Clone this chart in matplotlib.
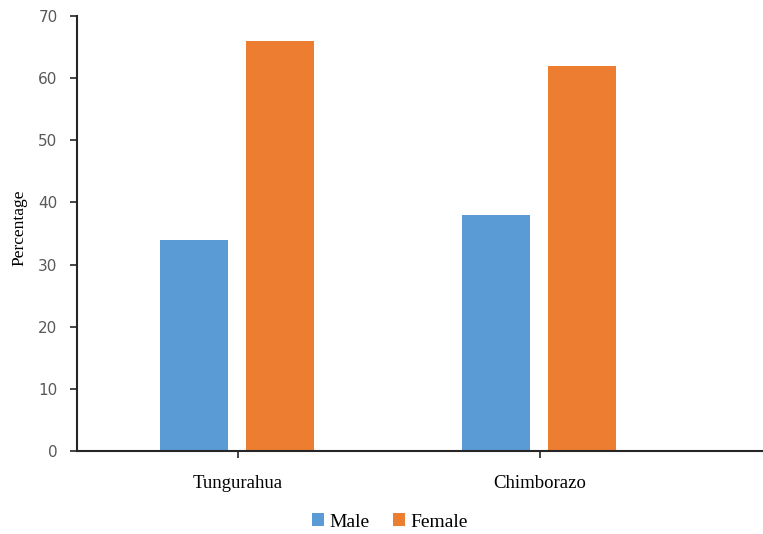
import numpy as np
import matplotlib.pyplot as plt

regions = ['Tungurahua', 'Chimborazo']
male = [34, 38]
female = [66, 62]

fig = plt.figure(figsize=(7.63, 5.34), dpi=100)
ax = fig.add_axes([0.1009, 0.1554, 0.8991, 0.8146])

x = np.arange(len(regions))
w = 0.225
ax.bar(x - 0.145, male, w, color='#5B9BD5', label='Male')
ax.bar(x + 0.14, female, w, color='#ED7D31', label='Female')

ax.set_xlim(-0.533, 1.74)
ax.set_ylim(0, 70)
ax.set_yticks(range(0, 71, 10))
ax.set_xticks(x)
ax.set_xticklabels(regions, family='Liberation Serif', fontsize=13.5)
for lab in ax.get_yticklabels():
    lab.set_family('DejaVu Sans')
    lab.set_color('#595959')
    lab.set_fontsize(11)
ax.tick_params(axis='y', length=5, width=1.2, color='#262626', pad=9)
ax.tick_params(axis='x', length=5, width=1.2, color='#262626', pad=12)

for s in ['top', 'right']:
    ax.spines[s].set_visible(False)
for s in ['left', 'bottom']:
    ax.spines[s].set_color('#262626')
    ax.spines[s].set_linewidth(1.5)

fig.text(0.026, 1 - 228 / 534, 'Percentage', rotation=90, ha='center', va='center',
         family='Liberation Serif', fontsize=12.5)

fig.legend(loc='center', bbox_to_anchor=(390 / 763, 1 - 522 / 534), ncol=2, frameon=False,
           prop={'family': 'Liberation Serif', 'size': 14}, handlelength=0.6, handleheight=0.6,
           handletextpad=0.3, columnspacing=1.2)

fig.savefig('out.png', dpi=100)
